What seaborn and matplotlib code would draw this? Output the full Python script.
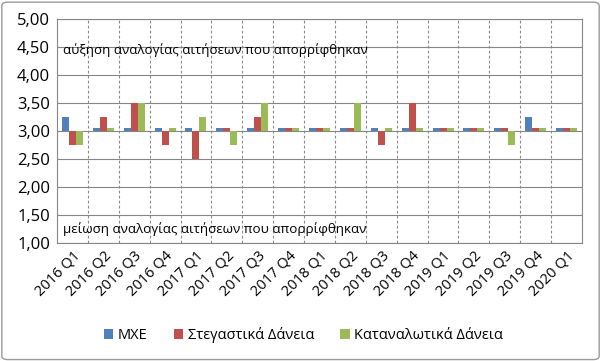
import matplotlib
matplotlib.use("Agg")
import matplotlib.pyplot as plt
import seaborn as sns
import pandas as pd
from matplotlib.patches import FancyBboxPatch, Patch
from matplotlib.ticker import FuncFormatter, MultipleLocator

quarters = ["2016 Q1", "2016 Q2", "2016 Q3", "2016 Q4", "2017 Q1", "2017 Q2", "2017 Q3", "2017 Q4",
            "2018 Q1", "2018 Q2", "2018 Q3", "2018 Q4", "2019 Q1", "2019 Q2", "2019 Q3", "2019 Q4", "2020 Q1"]
mxe = [3.25, 3.05, 3.05, 3.05, 3.05, 3.05, 3.05, 3.05, 3.05, 3.05, 3.05, 3.05, 3.05, 3.05, 3.05, 3.25, 3.05]
steg = [2.75, 3.25, 3.50, 2.75, 2.50, 3.05, 3.25, 3.05, 3.05, 3.05, 2.75, 3.50, 3.05, 3.05, 3.05, 3.05, 3.05]
katan = [2.75, 3.05, 3.50, 3.05, 3.25, 2.75, 3.50, 3.05, 3.05, 3.50, 3.05, 3.05, 3.05, 3.05, 2.75, 3.05, 3.05]
series_names = ["ΜΧΕ", "Στεγαστικά Δάνεια", "Καταναλωτικά Δάνεια"]
baseline = 3.0

colors = ["#4F81BD", "#C0504D", "#9BBB59"]

df = pd.DataFrame({
    "quarter": quarters * 3,
    "series": [series_names[0]] * len(quarters) + [series_names[1]] * len(quarters) + [series_names[2]] * len(quarters),
    "value": mxe + steg + katan,
})
df["dev"] = df["value"] - baseline

sns.set_style("white")
plt.rcParams["font.family"] = ["Open Sans", "DejaVu Sans"]

fig = plt.figure(figsize=(6.01, 3.61), dpi=100)
ax = fig.add_axes([57 / 601, 1 - 243 / 361, (582 - 57) / 601, (243 - 19) / 361])

sns.barplot(data=df, x="quarter", y="dev", hue="series", palette=colors, ax=ax,
            width=0.68, bottom=baseline, linewidth=0, saturation=1, errorbar=None, legend=False)

ax.set_ylim(1, 5)
ax.set_xlim(-0.5, len(quarters) - 0.5)
ax.yaxis.set_major_locator(MultipleLocator(0.5))
ax.yaxis.set_major_formatter(FuncFormatter(lambda v, p: f"{v:.2f}".replace(".", ",")))
ax.grid(axis="y", color="#868686", linewidth=0.8, linestyle="-")
ax.set_axisbelow(True)
for i in range(1, len(quarters)):
    ax.axvline(i - 0.5, color="#8a8a8a", linewidth=0.8, linestyle=(0, (2.5, 2)), zorder=0)
for s in ax.spines.values():
    s.set_color("#868686")
    s.set_linewidth(0.8)

ax.set_xlabel("")
ax.set_ylabel("")
ax.tick_params(axis="y", labelsize=12, length=0, pad=5, labelcolor="black")
ax.tick_params(axis="x", labelsize=10.5, length=0, pad=4, labelcolor="black")
ax.set_xticks(range(len(quarters)))
ax.set_xticklabels(quarters, rotation=45, ha="right", rotation_mode="anchor")

ax.text(0.012, 4.45, "αύξηση αναλογίας αιτήσεων που απορρίφθηκαν", transform=ax.get_yaxis_transform(),
        fontsize=9.6, va="center", ha="left", color="black")
ax.text(0.012, 1.25, "μείωση αναλογίας αιτήσεων που απορρίφθηκαν", transform=ax.get_yaxis_transform(),
        fontsize=9.6, va="center", ha="left", color="black")

handles = [Patch(facecolor=c, edgecolor="none") for c in colors]
ax.legend(handles, series_names, loc="center", bbox_to_anchor=(0.505, 26 / 361), bbox_transform=fig.transFigure,
          ncol=3, frameon=False, fontsize=10.5, handlelength=0.65, handleheight=0.65,
          handletextpad=0.3, columnspacing=1.8, labelcolor="black")

fig.patches.append(FancyBboxPatch((0.003, 0.004), 0.994, 0.99, boxstyle="round,pad=0,rounding_size=0.01",
                                  transform=fig.transFigure, fill=False, edgecolor="#9a9a9a", linewidth=1))

fig.savefig("out.png", dpi=100)
